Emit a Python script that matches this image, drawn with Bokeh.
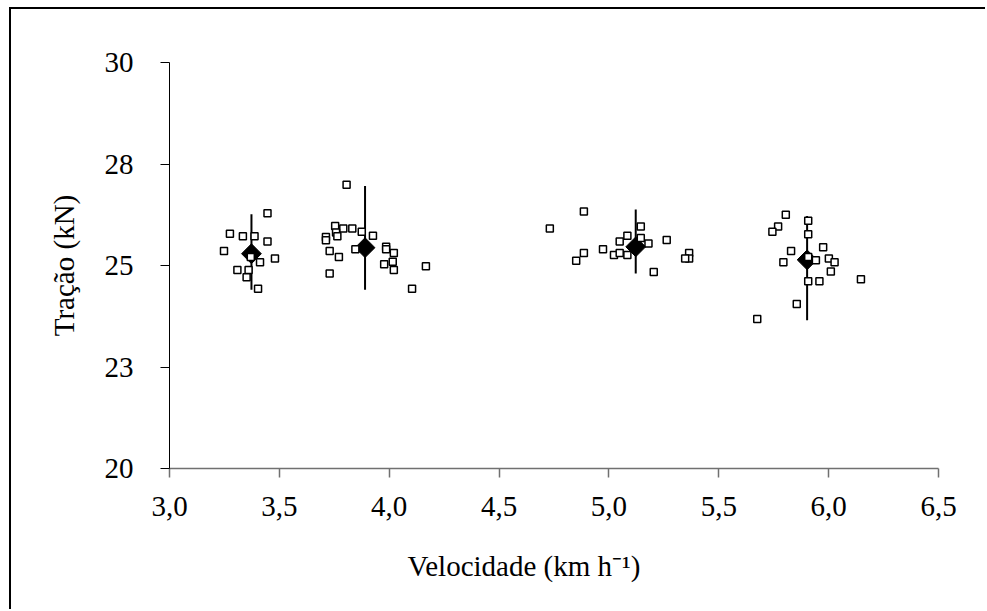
from bokeh.plotting import figure
from bokeh.models import Range1d, FixedTicker, ColumnDataSource, Title
from bokeh.embed import file_html
from bokeh.resources import INLINE
import numpy as np

# Observed values (velocity km/h, traction kN)
vel_obs = [3.446, 3.275, 3.334, 3.387, 3.446, 3.248, 3.370, 3.412, 3.480, 3.309, 3.360, 3.351, 3.403,
           3.806, 3.754, 3.791, 3.832, 3.758, 3.764, 3.875, 3.926, 3.712, 3.712, 3.729, 3.771, 3.846,
           3.986, 3.986, 4.021, 4.016, 3.977, 4.021, 3.729, 4.167, 4.104,
           4.886, 4.731, 5.145, 5.084, 5.049, 5.145, 5.180, 5.263, 4.973, 4.886, 4.851, 5.023, 5.049,
           5.084, 5.365, 5.365, 5.347, 5.204,
           5.805, 5.770, 5.744, 5.907, 5.907, 5.829, 5.975, 5.794, 5.907, 5.942, 6.001, 6.027, 6.010,
           5.907, 5.958, 6.147, 5.855, 5.675]
trac_obs = [26.29, 25.78, 25.72, 25.72, 25.59, 25.36, 25.21, 25.08, 25.17, 24.89, 24.89, 24.71, 24.43,
            26.99, 25.97, 25.91, 25.91, 25.81, 25.72, 25.83, 25.73, 25.70, 25.62, 25.36, 25.21, 25.40,
            25.46, 25.40, 25.31, 25.09, 25.03, 24.89, 24.80, 24.98, 24.43,
            26.33, 25.91, 25.96, 25.73, 25.59, 25.68, 25.54, 25.63, 25.40, 25.31, 25.12, 25.26, 25.31,
            25.26, 25.31, 25.17, 25.17, 24.84,
            26.25, 25.96, 25.83, 26.10, 25.77, 25.36, 25.45, 25.08, 25.21, 25.13, 25.17, 25.08, 24.85,
            24.61, 24.61, 24.66, 24.05, 23.68]

# Group means and ranges
vel_mean = [3.373, 3.890, 5.122, 5.902]
trac_mean = [25.29, 25.44, 25.46, 25.14]
trac_low = [24.40, 24.40, 24.80, 23.65]
trac_high = [26.26, 26.96, 26.38, 26.22]

x_ticks = [3.0, 3.5, 4.0, 4.5, 5.0, 5.5, 6.0, 6.5]
x_labels = ["3,0", "3,5", "4,0", "4,5", "5,0", "5,5", "6,0", "6,5"]
y_ticks = [20.0, 22.5, 25.0, 27.5, 30.0]
y_labels = ["20", "23", "25", "28", "30"]

FONT = "Liberation Serif"
FS = "29px"

p = figure(width=976, height=602, output_backend="svg", toolbar_location=None,
           x_range=Range1d(3.0, 6.5), y_range=Range1d(20, 30),
           min_border_left=158, min_border_right=49, min_border_top=53, min_border_bottom=143,
           background_fill_color="white", border_fill_color="white",
           styles={"margin-left": "9px", "margin-top": "7px",
                   "border-left": "2px solid black", "border-top": "2px solid black"})
p.outline_line_color = None
p.grid.visible = False

p.xaxis.ticker = FixedTicker(ticks=x_ticks)
p.xaxis.major_label_overrides = {t: l for t, l in zip(x_ticks, x_labels)}
p.yaxis.ticker = FixedTicker(ticks=y_ticks)
p.yaxis.major_label_overrides = {t: l for t, l in zip(y_ticks, y_labels)}

for ax in (p.xaxis[0], p.yaxis[0]):
    ax.major_tick_in = 0
    ax.major_tick_out = 9
    ax.minor_tick_line_color = None
    ax.major_label_text_font = FONT
    ax.major_label_text_font_size = FS
    ax.major_label_text_color = "black"
    ax.axis_label_text_font = FONT
    ax.axis_label_text_font_size = FS
    ax.axis_label_text_font_style = "normal"
    ax.axis_label_text_color = "black"

p.xaxis.axis_line_color = "#707070"
p.xaxis.axis_line_width = 1.5
p.xaxis.major_tick_line_color = "#707070"
p.xaxis.major_tick_line_width = 1.5
p.yaxis.axis_line_color = "black"
p.yaxis.major_tick_line_color = "black"

p.xaxis.major_label_standoff = 19
p.yaxis.major_label_standoff = 27
p.yaxis.axis_label = "Tração (kN)"
p.yaxis.axis_label_standoff = 22

xtitle = Title(text="Velocidade (km h\u207b\u00b9)", align="left", offset=238, standoff=59,
               text_font=FONT, text_font_size=FS, text_font_style="normal", text_color="black")
p.add_layout(xtitle, "below")

msrc = ColumnDataSource(dict(x=vel_mean, y=trac_mean, lo=trac_low, hi=trac_high))
p.segment(x0="x", y0="lo", x1="x", y1="hi", source=msrc, line_color="black", line_width=2)
p.scatter(x="x", y="y", source=msrc, marker="square", angle=np.pi / 4, size=14,
          fill_color="black", line_color="black")

osrc = ColumnDataSource(dict(x=vel_obs, y=trac_obs))
p.scatter(x="x", y="y", source=osrc, marker="square", size=7,
          fill_color="white", line_color="black", line_width=1.5)

open("out.html", "w").write(file_html(p, INLINE))
